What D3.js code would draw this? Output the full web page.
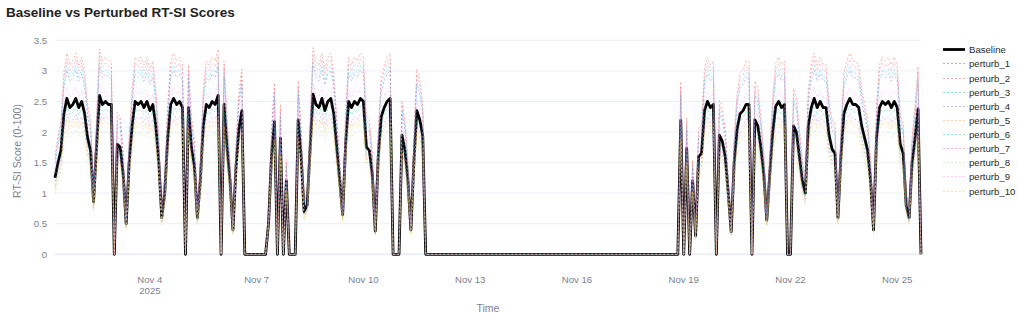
<!DOCTYPE html>
<html>
<head>
<meta charset="utf-8">
<script src="https://cdn.jsdelivr.net/npm/d3@7"></script>
<style>
body { margin: 0; background: #fff; }
svg { display: block; font-family: "Liberation Sans", Arial, Helvetica, sans-serif; }
</style>
</head>
<body>
<svg id="chart" width="1018" height="319"></svg>
<script>

// readings every 2 hours, starting Nov 1 2025 08:00
var startTime = Date.UTC(2025, 10, 1, 8);
var stepHours = 2;

var baseline = [
    1.25, 1.5, 1.7, 2.3, 2.55, 2.4, 2.45, 2.55, 2.4, 2.5,
    2.3, 1.9, 1.7, 0.86, 1.75, 2.6, 2.45, 2.5, 2.45, 2.45,
    0, 1.8, 1.75, 1.3, 0.5, 1.5, 2.1, 2.5, 2.45, 2.5,
    2.4, 2.5, 2.35, 2.45, 2.1, 1.5, 0.6, 1.0, 1.9, 2.45,
    2.55, 2.45, 2.5, 2.4, 0, 2.4, 1.75, 1.45, 0.6, 1.2,
    2.1, 2.45, 2.4, 2.5, 2.45, 2.6, 0, 2.45, 1.75, 1.2,
    0.4, 1.4, 2.05, 2.35, 0, 0, 0, 0, 0, 0,
    0, 0, 0.5, 1.6, 2.17, 0, 1.9, 0, 1.2, 0,
    0, 0, 2.2, 1.6, 0.7, 0.8, 1.7, 2.62, 2.45, 2.4,
    2.55, 2.35, 2.5, 2.55, 2.3, 1.75, 1.2, 0.65, 1.8, 2.5,
    2.4, 2.5, 2.45, 2.55, 2.5, 1.75, 1.7, 1.3, 0.38, 1.6,
    2.25, 2.4, 2.5, 2.55, 0, 0, 0, 1.95, 1.7, 1.2,
    0.4, 1.5, 2.35, 2.2, 1.94, 0,
    0, 0, 0, 0, 0, 0, 0, 0, 0, 0, 0, 0, 0, 0, 0, 0, 0,
    0, 0, 0, 0, 0, 0, 0, 0, 0, 0, 0, 0, 0, 0, 0, 0, 0,
    0, 0, 0, 0, 0, 0, 0, 0, 0, 0, 0, 0, 0, 0, 0, 0, 0,
    0, 0, 0, 0, 0, 0, 0, 0, 0, 0, 0, 0, 0, 0, 0, 0, 0,
    0, 0, 0, 0, 0, 0, 0, 0, 0, 0, 0, 0, 0, 0, 0, 0, 0,
    2.19, 0, 1.73, 0, 1.2, 0.3, 1.6, 1.65, 2.35,
    2.5, 2.4, 2.45, 0, 1.95, 1.85, 1.6, 1.0, 0.37, 1.5,
    2.05, 2.3, 2.35, 2.45, 2.45, 0, 2.2, 2.1, 1.75, 1.3,
    0.56, 1.3, 2.0, 2.42, 2.5, 2.4, 2.45, 0, 0, 2.1,
    2.0, 1.6, 1.2, 1.0, 2.1, 2.4, 2.55, 2.4, 2.5, 2.4,
    2.4, 1.95, 1.72, 1.65, 0.6, 1.6, 2.3, 2.45, 2.55, 2.45,
    2.45, 2.4, 2.1, 1.9, 1.7, 1.2, 0.4, 1.9, 2.4, 2.5,
    2.45, 2.5, 2.4, 2.5, 2.4, 1.8, 1.65, 0.8, 0.6, 1.5,
    1.9, 2.38, 0
];

var perturbNames = ['perturb_1', 'perturb_2', 'perturb_3', 'perturb_4', 'perturb_5',
                    'perturb_6', 'perturb_7', 'perturb_8', 'perturb_9', 'perturb_10'];
var perturbColors = ['#636efa', '#EF553B', '#00cc96', '#ab63fa', '#FFA15A',
                     '#19d3f3', '#FF6692', '#B6E880', '#FF97FF', '#FECB52'];
// ratio of each perturbed run to the baseline
var perturbRatio = [1.18, 1.29, 0.95, 0.9, 0.87, 1.21, 1.25, 0.8, 1.07, 0.85];

var yTicks = [0, 0.5, 1, 1.5, 2, 2.5, 3, 3.5];
var xTickDays = [4, 7, 10, 13, 16, 19, 22, 25];

var W = 1018, H = 319;
var left = 55, right = 921, y0px = 254.3, yTopPx = 40.3;
var textGrey = '#7b7f8f';

var times = baseline.map(function(d, i) { return new Date(startTime + i * stepHours * 3600e3); });

var series = [{name: 'Baseline', color: '#000', width: 2.8, dash: null, opacity: 1,
               values: baseline.map(function(v, i) { return {t: times[i], v: v}; })}];
perturbNames.forEach(function(n, k) {
    series.push({
        name: n, color: perturbColors[k], width: 1, dash: '2,2', opacity: 0.42,
        values: baseline.map(function(v, i) { return {t: times[i], v: v * perturbRatio[k]}; })
    });
});

var svg = d3.select('#chart');
svg.append('rect').attr('width', W).attr('height', H).attr('fill', '#fff');

var x = d3.scaleUtc().domain(d3.extent(times)).range([left, right]);
var y = d3.scaleLinear().domain([0, 3.5]).range([y0px, yTopPx]);

// grid
svg.append('g').selectAll('line')
    .data(yTicks)
    .enter().append('line')
        .attr('x1', left).attr('x2', right)
        .attr('y1', function(d) { return y(d); })
        .attr('y2', function(d) { return y(d); })
        .attr('stroke', '#EBF0F8')
        .attr('stroke-width', function(d) { return d === 0 ? 2 : 1; });

// y ticks
var yAxis = d3.axisLeft(y).tickValues(yTicks).tickSize(0).tickPadding(8)
    .tickFormat(function(d) { return d3.format('')(d); });
svg.append('g').attr('transform', 'translate(' + left + ',0)').call(yAxis)
    .call(function(g) { g.select('.domain').remove(); })
    .selectAll('text')
        .attr('fill', textGrey)
        .style('font-size', '9.6px')
        .style('font-family', '"Liberation Sans", Arial, sans-serif');

// x ticks
var xTickDates = xTickDays.map(function(d) { return new Date(Date.UTC(2025, 10, d)); });
var fmt = d3.utcFormat('%b %-d');
svg.append('g').selectAll('text')
    .data(xTickDates)
    .enter().append('text')
        .attr('x', function(d) { return x(d); })
        .attr('y', 282.5)
        .attr('text-anchor', 'middle')
        .attr('fill', textGrey)
        .style('font-size', '9.6px')
        .text(fmt);
svg.append('text')
    .attr('x', x(xTickDates[0])).attr('y', 294.3)
    .attr('text-anchor', 'middle')
    .attr('fill', textGrey)
    .style('font-size', '9.6px')
    .text('2025');

// axis titles
svg.append('text')
    .attr('x', (left + right) / 2).attr('y', 312)
    .attr('text-anchor', 'middle')
    .attr('fill', textGrey)
    .style('font-size', '10.5px')
    .text('Time');
svg.append('text')
    .attr('transform', 'translate(21,151) rotate(-90)')
    .attr('text-anchor', 'middle')
    .attr('fill', textGrey)
    .style('font-size', '10.5px')
    .text('RT-SI Score (0-100)');

// title
svg.append('text')
    .attr('x', 6).attr('y', 17)
    .attr('fill', '#222')
    .style('font-size', '13.5px')
    .style('font-weight', 'bold')
    .text('Baseline vs Perturbed RT-SI Scores');

// lines
var line = d3.line()
    .x(function(d) { return x(d.t); })
    .y(function(d) { return y(d.v); });

svg.append('g').selectAll('path')
    .data(series)
    .enter().append('path')
        .attr('d', function(d) { return line(d.values); })
        .attr('fill', 'none')
        .attr('stroke', function(d) { return d.color; })
        .attr('stroke-width', function(d) { return d.width; })
        .attr('stroke-dasharray', function(d) { return d.dash; })
        .attr('stroke-opacity', function(d) { return d.opacity; })
        .attr('stroke-linejoin', 'round');

// legend
var leg = svg.append('g').selectAll('g')
    .data(series)
    .enter().append('g')
        .attr('transform', function(d, i) { return 'translate(943,' + Math.round(49.3 + i * 14.13) + ')'; });
leg.append('line')
    .attr('x1', 0).attr('x2', 22)
    .attr('y1', 0.5).attr('y2', 0.5)
    .attr('stroke', function(d) { return d.color; })
    .attr('stroke-width', function(d) { return d.width; })
    .attr('stroke-dasharray', function(d) { return d.dash; })
    .attr('stroke-opacity', function(d) { return d.opacity + 0.1; });
leg.append('text')
    .attr('x', 26).attr('y', 4)
    .attr('fill', '#2a2a2a')
    .style('font-size', '9.6px')
    .text(function(d) { return d.name; });

</script>
</body>
</html>
